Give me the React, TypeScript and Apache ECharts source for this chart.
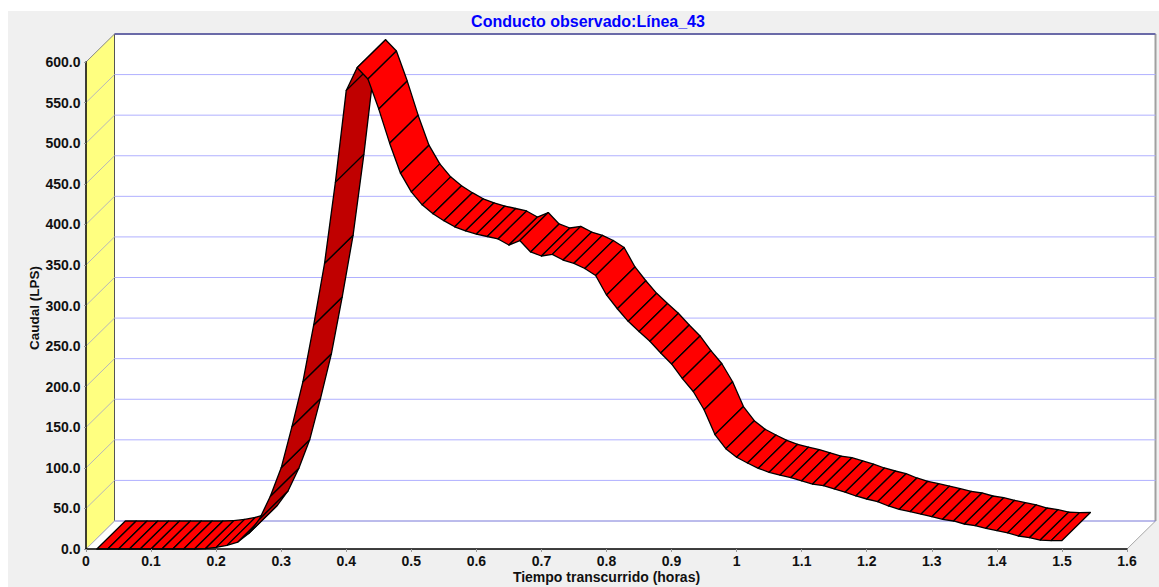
import React, { useEffect, useRef } from "react";
import * as echarts from "echarts";

const titleText = "Conducto observado:Línea_43";
const xAxisName = "Tiempo transcurrido (horas)";
const yAxisName = "Caudal (LPS)";

const minutes = [
  1, 2, 3, 4, 5, 6, 7, 8, 9, 10, 11, 12, 13, 14, 15, 16, 17, 18, 19, 20, 21, 22, 23, 24, 25, 26, 27, 28, 29, 30,
  31, 32, 33, 34, 35, 36, 37, 38, 39, 40, 41, 42, 43, 44, 45, 46, 47, 48, 49, 50, 51, 52, 53, 54, 55, 56, 57, 58, 59, 60,
  61, 62, 63, 64, 65, 66, 67, 68, 69, 70, 71, 72, 73, 74, 75, 76, 77, 78, 79, 80, 81, 82, 83, 84, 85, 86, 87, 88, 89, 90,
];
const flows = [
  0, 0, 0, 0, 0, 0, 0, 0, 0, 0, 0.4, 2, 4.5, 8.5, 19, 37, 65, 100, 151, 206, 276, 352, 452, 565, 593, 579, 542, 500, 463, 440,
  424, 413, 404.5, 397, 392, 388, 385, 382, 374.5, 380, 366, 361, 363, 356, 352, 345.6, 337, 313, 296, 280.5, 268, 256, 241.5, 228, 210, 194, 171.6, 141, 123.6, 113,
  106, 99.4, 94.5, 91, 88, 84, 80, 78, 74, 70, 65.3, 61.6, 58.3, 53, 48.9, 46, 43, 39.8, 36.6, 34.5, 30.8, 28.7, 25.5, 22.6, 20, 16, 13.9, 11, 10.3, 10.5,
];
const yTicks = [0, 50, 100, 150, 200, 250, 300, 350, 400, 450, 500, 550, 600];

const X_MAX = 1.6;
const Y_MAX = 600;
const DEPTH_X = 28.5;
const DEPTH_Y = 28;
const FONT = '"Liberation Sans", Arial, sans-serif';

const back = (p: number[]) => [p[0] + DEPTH_X, p[1] - DEPTH_Y];

const segments = minutes.slice(0, -1).map((m, i) => [m / 60, flows[i], minutes[i + 1] / 60, flows[i + 1]]);

export default function App() {
  const ref = useRef<HTMLDivElement>(null);
  useEffect(() => {
    const chart = echarts.init(ref.current!, undefined, { renderer: "svg" });
    chart.setOption({
      animation: false,
      backgroundColor: "#ffffff",
      graphic: [
        { type: "rect", z: -10, silent: true, shape: { x: 8, y: 11, width: 1151, height: 576 }, style: { fill: "#f0f0f0" } },
        {
          type: "text",
          z: 10,
          silent: true,
          x: 606.5,
          y: 577,
          style: { text: xAxisName, fill: "#111", font: `bold 14px ${FONT}`, textAlign: "center", textVerticalAlign: "middle" },
        },
        {
          type: "text",
          z: 10,
          silent: true,
          x: 34,
          y: 308,
          rotation: Math.PI / 2,
          style: { text: yAxisName, fill: "#111", font: `bold 13.5px ${FONT}`, textAlign: "center", textVerticalAlign: "middle" },
        },
      ],
      title: {
        text: titleText,
        left: 583,
        top: 8,
        textAlign: "center",
        textStyle: { color: "#0000ff", fontFamily: FONT, fontWeight: "bold", fontSize: 16, lineHeight: 17 },
      },
      grid: { left: 86, right: 32, top: 62, bottom: 38, show: false, outerBoundsMode: "none" },
      xAxis: {
        type: "value",
        min: 0,
        max: X_MAX,
        interval: 0.1,
        z: 6,
        axisLine: { onZero: false, lineStyle: { color: "#000", width: 1.5 } },
        axisTick: { length: 3, lineStyle: { color: "#999" } },
        axisLabel: { color: "#111", fontFamily: FONT, fontWeight: "bold", fontSize: 14, margin: 5, hideOverlap: false },
        splitLine: { show: false },
      },
      yAxis: {
        type: "value",
        min: 0,
        max: Y_MAX,
        interval: 50,
        z: 6,
        axisLine: { show: true, onZero: false, lineStyle: { color: "#000", width: 1.5 } },
        axisTick: { length: 2, lineStyle: { color: "#999" } },
        axisLabel: {
          color: "#111",
          fontFamily: FONT,
          fontWeight: "bold",
          fontSize: 14,
          margin: 5.5,
          formatter: (v: number) => v.toFixed(1),
        },
        splitLine: { show: false },
      },
      series: [
        {
          type: "custom",
          name: "frame",
          coordinateSystem: "cartesian2d",
          z: 1,
          silent: true,
          clip: false,
          data: [[0, 0]],
          renderItem: (_p: any, api: any) => {
            const o = api.coord([0, 0]);
            const t = api.coord([0, Y_MAX]);
            const r = api.coord([X_MAX, 0]);
            const bo = back(o);
            const bt = back(t);
            const br = back(r);
            return {
              type: "group",
              children: [
                { type: "polygon", shape: { points: [bo, [br[0], br[1]], [br[0], bt[1]], bt] }, style: { fill: "#ffffff" }, z2: 1 },
                { type: "polygon", shape: { points: [o, r, br, bo] }, style: { fill: "#ffffff" }, z2: 1 },
                { type: "polygon", shape: { points: [o, t, bt, bo] }, style: { fill: "#ffff80" }, z2: 1 },
                { type: "line", shape: { x1: bo[0], y1: bo[1], x2: bt[0], y2: bt[1] }, style: { stroke: "#555", lineWidth: 1 }, z2: 5 },
                { type: "line", shape: { x1: br[0], y1: br[1], x2: br[0], y2: bt[1] }, style: { stroke: "#a0a0a0", lineWidth: 2 }, z2: 5 },
                { type: "line", shape: { x1: r[0], y1: r[1], x2: br[0], y2: br[1] }, style: { stroke: "#a8a8a8", lineWidth: 1 }, z2: 5 },
                { type: "line", shape: { x1: o[0], y1: o[1], x2: bo[0], y2: bo[1] }, style: { stroke: "#b0b0b0", lineWidth: 1 }, z2: 5 },
              ],
            };
          },
        },
        {
          type: "custom",
          name: "grid",
          coordinateSystem: "cartesian2d",
          z: 2,
          silent: true,
          clip: false,
          data: yTicks.map((v) => [0, v]),
          renderItem: (_p: any, api: any) => {
            const v = api.value(1);
            const a = api.coord([0, v]);
            const b = api.coord([X_MAX, v]);
            const ba = back(a);
            const bb = back(b);
            const stroke = v === Y_MAX ? "#6a6aa8" : v === 0 ? "#7878d8" : "#b0b0ff";
            const width = v === Y_MAX ? 2 : 1;
            return {
              type: "group",
              children: [
                { type: "line", shape: { x1: ba[0], y1: ba[1], x2: bb[0], y2: bb[1] }, style: { stroke, lineWidth: width } },
                { type: "line", shape: { x1: a[0], y1: a[1], x2: ba[0], y2: ba[1] }, style: { stroke: v === Y_MAX ? "#888" : "#b8b8b8", lineWidth: 1 } },
              ],
            };
          },
        },
        {
          type: "custom",
          name: "Caudal",
          coordinateSystem: "cartesian2d",
          z: 3,
          silent: true,
          clip: false,
          encode: { x: [0, 2], y: [1, 3] },
          data: segments,
          renderItem: (p: any, api: any) => {
            const a = api.coord([api.value(0), api.value(1)]);
            const b = api.coord([api.value(2), api.value(3)]);
            const steep = a[1] - b[1] > (b[0] - a[0]) * (DEPTH_Y / DEPTH_X);
            return {
              type: "polygon",
              z2: p.dataIndex,
              shape: { points: [a, b, back(b), back(a)] },
              style: { fill: steep ? "#c00000" : "#ff0000", stroke: "#000", lineWidth: 1.3, lineJoin: "round" },
            };
          },
        },
      ],
    });
    return () => chart.dispose();
  }, []);
  return <div ref={ref} style={{ position: "fixed", left: 0, top: 0, width: 1159, height: 587 }} />;
}
